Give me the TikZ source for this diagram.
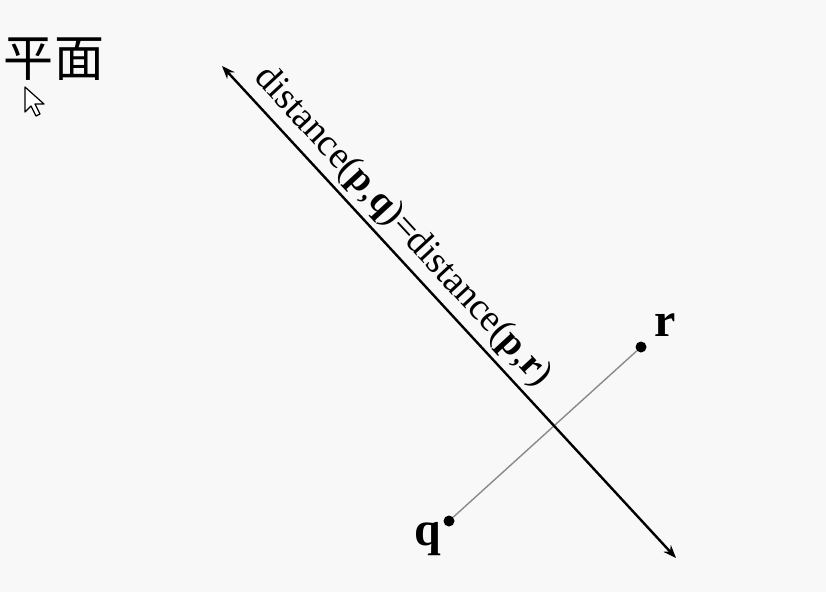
\documentclass[tikz,border=0pt]{standalone}
\usepackage{fontspec}
\setmainfont{Liberation Serif}
\newfontfamily\cjk{Noto Sans CJK SC}
\usepackage{xcolor}
\usepackage{tikz}
\usetikzlibrary{arrows.meta,positioning,calc}
\definecolor{PageGray}{HTML}{F8F8F8}
\definecolor{SegGray}{HTML}{8A8A8A}

\begin{document}
\begin{tikzpicture}[
  x=1pt,y=-1pt,
  dot/.style={circle,fill=black,inner sep=0pt,minimum size=11pt},
  ptlabel/.style={font=\fontsize{48}{50}\selectfont\bfseries,inner sep=0pt},
  bisector/.style={{Stealth[length=13pt,width=10pt]}-{Stealth[length=13pt,width=10pt]},line width=2.4pt,black},
  seg/.style={line width=1.4pt,SegGray}
]
\useasboundingbox[fill=PageGray] (0,0) rectangle (826,592);
\node[font=\cjk\fontsize{50}{52}\selectfont,inner sep=0pt] (title) at (54,59) {平面};
% cursor
\draw[fill=white,line width=1.2pt,line join=round] (25,87) -- ++(0,25) -- ++(6,-6) -- ++(5,10) -- ++(4,-2) -- ++(-5,-10) -- ++(9,0) -- cycle;
\coordinate (top) at (222,66);
\coordinate (bot) at (676,558);
\node[dot] (q) at (449,521) {};
\node[dot] (r) at (641,347) {};
\draw[seg] (q) -- (r);
\draw[bisector] (top) -- node[pos=0.36,sloped,above=5pt,inner sep=0pt,font=\fontsize{38}{40}\selectfont] (eq) {distance(\textbf{p},\textbf{q})=distance(\textbf{p},\textbf{r})} (bot);
\node[ptlabel,anchor=base] (qlbl) at (428,545) {q};
\node[ptlabel,anchor=base] (rlbl) at (665,336) {r};
\end{tikzpicture}
\end{document}
